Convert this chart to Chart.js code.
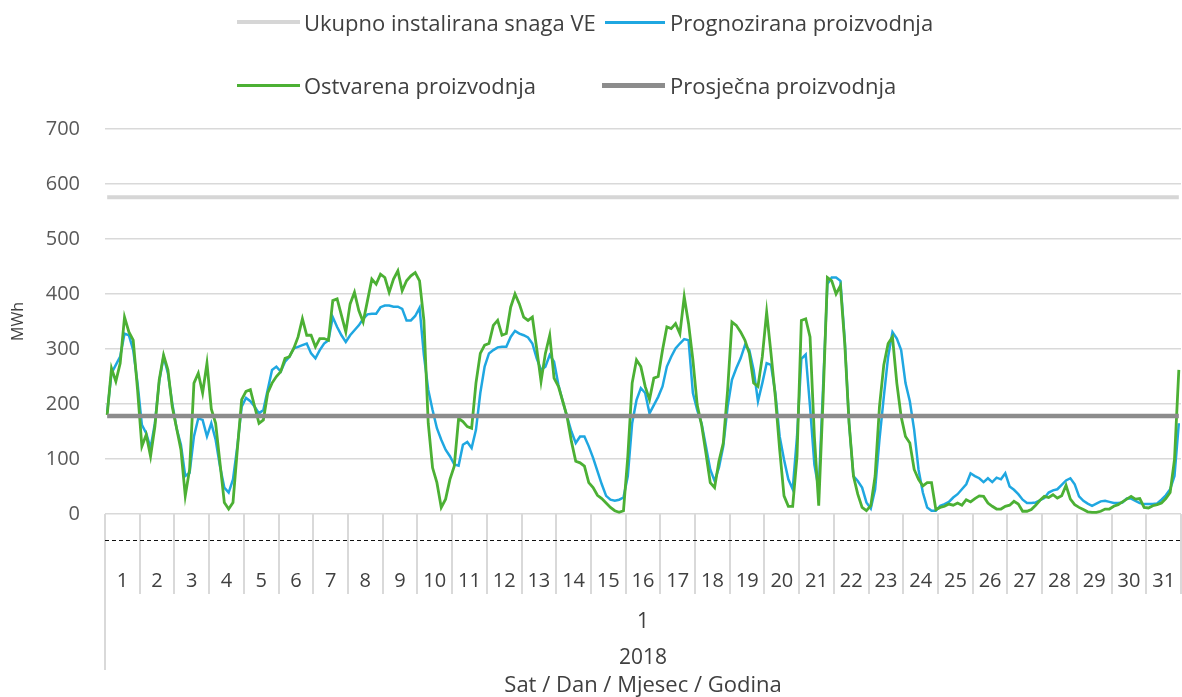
<!DOCTYPE html>
<html>
<head>
<meta charset="utf-8">
<script src="https://cdn.jsdelivr.net/npm/chart.js@4.4.1/dist/chart.umd.min.js"></script>
<style>
  html, body { margin: 0; padding: 0; background: #ffffff; }
  #wrap { position: relative; width: 1182px; height: 697px; }
  #legend { position: absolute; left: 0; top: 0; width: 1182px; height: 110px;
            font-family: 'Open Sans', sans-serif; font-size: 22px; color: #404040; }
  .item { position: absolute; display: flex; align-items: center; white-space: nowrap; transform: translateY(-50%); }
  .sw { display: inline-block; }
</style>
</head>
<body>
<div id="wrap">
  <canvas id="c" width="1182" height="697"></canvas>
  <div id="legend"></div>
</div>
<script>
// ---------------- DATA ----------------
const days = ['1','2','3','4','5','6','7','8','9','10','11','12','13','14','15','16',
              '17','18','19','20','21','22','23','24','25','26','27','28','29','30','31'];
const sampleHours = ['00','03','06','09','12','15','18','21'];
const months = ['1'];
const years = ['2018'];

// Ostvarena proizvodnja (MWh), 8 readings per day
const actual = [
  180,265,241,274,358,331,316,226,   // 1
  123,144,105,159,244,289,262,195,   // 2
  156,117, 33, 81,238,256,220,274,   // 3
  191,165, 93, 21,  9, 21,117,208,   // 4
  223,226,195,165,171,220,238,250,   // 5
  259,283,286,301,322,355,325,325,   // 6
  304,319,319,316,388,391,361,331,   // 7
  382,403,370,349,388,427,418,436,   // 8
  430,403,427,442,406,424,433,439,   // 9
  424,352,165, 84, 57, 12, 27, 63,   // 10
   87,174,168,159,156,238,292,307,   // 11
  310,343,352,325,328,376,400,382,   // 12
  358,352,358,301,241,292,325,247,   // 13
  232,205,177,132, 96, 93, 87, 57,   // 14
   48, 34, 28, 20, 12,  6,  3,  6,   // 15
  105,238,280,268,232,208,247,250,   // 16
  298,340,337,346,328,395,346,280,   // 17
  198,162,111, 57, 48, 96,129,225,   // 18
  349,343,331,316,292,238,232,286,   // 19
  367,292,213,117, 33, 14, 14,105,   // 20
  352,355,322,141, 15,208,430,424,   // 21
  400,415,310,165, 69, 36, 12,  6,   // 22
   15, 69,195,271,310,322,238,177,   // 23
  141,129, 81, 63, 51, 57, 57,  8,   // 24
   12, 14, 18, 16, 20, 16, 26, 22,   // 25
   28, 33, 32, 20, 14,  9,  9, 14,   // 26
   16, 23, 18,  5,  5,  8, 16, 25,   // 27
   32, 30, 35, 29, 33, 52, 27, 17,   // 28
   12,  8,  4,  3,  3,  5,  9,  9,   // 29
   14, 17, 22, 27, 32, 27, 28, 12,   // 30
   11, 15, 17, 20, 28, 39, 99,262    // 31
];

// Prognozirana proizvodnja (MWh), 8 readings per day
const forecast = [
  185,256,271,286,328,325,298,238,   // 1
  162,147,120,165,241,286,256,201,   // 2
  156,126, 69, 75,141,174,171,141,   // 3
  165,135, 87, 48, 39, 63,123,195,   // 4
  211,205,195,183,189,226,262,268,   // 5
  259,277,286,301,304,307,310,292,   // 6
  283,298,310,316,358,340,325,313,   // 7
  325,334,343,355,363,364,364,376,   // 8
  379,379,377,377,373,352,352,360,   // 9
  375,289,226,189,156,135,117,105,   // 10
   90, 88,126,131,120,153,220,268,   // 11
  292,298,303,304,304,322,333,328,   // 12
  325,321,310,283,262,268,289,277,   // 13
  235,205,177,150,129,141,141,123,   // 14
  102, 78, 54, 33, 26, 24, 26, 30,   // 15
   69,165,207,229,220,183,198,213,   // 16
  232,268,286,301,310,318,316,220,   // 17
  189,165,123, 81, 60, 84,123,195,   // 18
  244,265,283,307,298,262,205,238,   // 19
  274,271,220,141, 99, 63, 45,141,   // 20
  282,290,195, 90, 45,230,418,430,   // 21
  430,424,316,165, 69, 60, 48, 21,   // 22
   10, 45,135,213,286,331,319,298,   // 23
  238,205,153, 81, 39, 12,  6,  6,   // 24
   15, 18, 22, 30, 36, 45, 54, 74,   // 25
   69, 65, 58, 65, 58, 66, 63, 74,   // 26
   50, 44, 36, 26, 20, 20, 21, 25,   // 27
   29, 39, 43, 45, 53, 61, 65, 54,   // 28
   32, 24, 19, 15, 19, 23, 24, 22,   // 29
   20, 20, 21, 28, 28, 24, 20, 18,   // 30
   18, 18, 19, 26, 34, 45, 69,165    // 31
];

const installedCapacity = 576;   // Ukupno instalirana snaga VE
const averageProduction = 178;   // Prosječna proizvodnja
const yTicks = [0, 100, 200, 300, 400, 500, 600, 700];

// ---------------- CHART ----------------
const labels = days.flatMap(d => sampleHours.map(h => d + '. ' + h + 'h'));
const FONT = "'Open Sans', sans-serif";
Chart.defaults.font.family = FONT;

const axisDecor = {
  id: 'axisDecor',
  afterDraw(chart) {
    const ctx = chart.ctx;
    const ca = chart.chartArea;
    const sd = chart.scales.xDay;
    const sy = chart.scales.xYear;
    const half = (sd.getPixelForValue(1) - sd.getPixelForValue(0)) / 2;
    ctx.save();
    ctx.strokeStyle = '#d9d9d9';
    ctx.lineWidth = 2;
    for (let i = 0; i <= days.length; i++) {
      const x = Math.round(sd.getPixelForValue(0) - half + i * 2 * half);
      ctx.beginPath();
      ctx.moveTo(x, ca.bottom);
      ctx.lineTo(x, i === 0 ? sy.top + 32 : sd.bottom - 6);
      ctx.stroke();
    }
    ctx.strokeStyle = '#111111';
    ctx.lineWidth = 1;
    ctx.setLineDash([4, 3]);
    ctx.beginPath();
    ctx.moveTo(ca.left, ca.bottom + 26.5);
    ctx.lineTo(ca.right, ca.bottom + 26.5);
    ctx.stroke();
    ctx.restore();
  }
};

const chart = new Chart(document.getElementById('c'), {
  type: 'line',
  data: {
    labels: labels,
    datasets: [
      { label: 'Prosječna proizvodnja', data: labels.map(() => averageProduction),
        borderColor: '#8c8c8c', borderWidth: 4.5, order: 0 },
      { label: 'Ostvarena proizvodnja', data: actual,
        borderColor: '#4cb034', borderWidth: 2.8, order: 1 },
      { label: 'Prognozirana proizvodnja', data: forecast,
        borderColor: '#1fa7e1', borderWidth: 2.5, order: 2 },
      { label: 'Ukupno instalirana snaga VE', data: labels.map(() => installedCapacity),
        borderColor: '#d6d6d6', borderWidth: 4, order: 3 }
    ]
  },
  options: {
    responsive: false,
    animation: false,
    devicePixelRatio: 1,
    layout: { padding: { top: 129, right: 1, left: 0, bottom: 0 } },
    elements: { point: { radius: 0 }, line: { tension: 0 } },
    plugins: { legend: { display: false }, tooltip: { enabled: false } },
    scales: {
      x: { type: 'category', display: false, offset: true, weight: 0 },
      xDay: {
        type: 'category', labels: days, position: 'bottom', offset: true, weight: 1,
        grid: { display: false, drawTicks: true, tickLength: 55 }, border: { display: false },
        ticks: { padding: 0, color: '#404040', font: { size: 20 }, maxRotation: 0, autoSkip: false },
        afterFit(s) { s.height = 86; }
      },
      xMonth: {
        type: 'category', labels: months, position: 'bottom', offset: true, weight: 2,
        grid: { display: false, drawTicks: false }, border: { display: false },
        ticks: { padding: 9, color: '#404040', font: { size: 21 }, maxRotation: 0 },
        afterFit(s) { s.height = 38; }
      },
      xYear: {
        type: 'category', labels: years, position: 'bottom', offset: true, weight: 3,
        grid: { display: false, drawTicks: false }, border: { display: false },
        ticks: { padding: 7, color: '#404040', font: { size: 21 }, maxRotation: 0 },
        title: { display: true, text: 'Sat / Dan / Mjesec / Godina', color: '#404040',
                 font: { size: 22, lineHeight: 1.0 }, padding: { top: 0, bottom: 0 } },
        afterFit(s) { s.height = 59; }
      },
      y: {
        min: 0, max: 700,
        afterBuildTicks(s) { s.ticks = yTicks.map(v => ({ value: v })); },
        grid: { color: '#d9d9d9', lineWidth: 1.5, drawTicks: false },
        border: { display: false },
        ticks: { padding: 25, color: '#595959', font: { size: 20 } },
        title: { display: true, text: 'MWh', color: '#404040', font: { size: 16 }, padding: { top: 9, bottom: 0 } },
        afterFit(s) { s.width = 105; }
      }
    }
  },
  plugins: [axisDecor]
});

// ---------------- LEGEND (HTML, from chart datasets) ----------------
const legendSlots = [
  { label: 'Ukupno instalirana snaga VE', left: 237, top: 22, sw: 63, gap: 4 },
  { label: 'Prognozirana proizvodnja',    left: 605, top: 22, sw: 60, gap: 5 },
  { label: 'Ostvarena proizvodnja',       left: 237, top: 85, sw: 63, gap: 4 },
  { label: 'Prosječna proizvodnja',       left: 602, top: 85, sw: 63, gap: 5 }
];
const legendEl = document.getElementById('legend');
legendSlots.forEach(slot => {
  const ds = chart.data.datasets.find(d => d.label === slot.label);
  const item = document.createElement('div');
  item.className = 'item';
  item.style.left = slot.left + 'px';
  item.style.top = slot.top + 'px';
  const sw = document.createElement('span');
  sw.className = 'sw';
  sw.style.width = slot.sw + 'px';
  sw.style.height = Math.round(ds.borderWidth) + 'px';
  sw.style.background = ds.borderColor;
  sw.style.marginRight = slot.gap + 'px';
  const tx = document.createElement('span');
  tx.textContent = ds.label;
  item.appendChild(sw);
  item.appendChild(tx);
  legendEl.appendChild(item);
});
</script>
</body>
</html>
